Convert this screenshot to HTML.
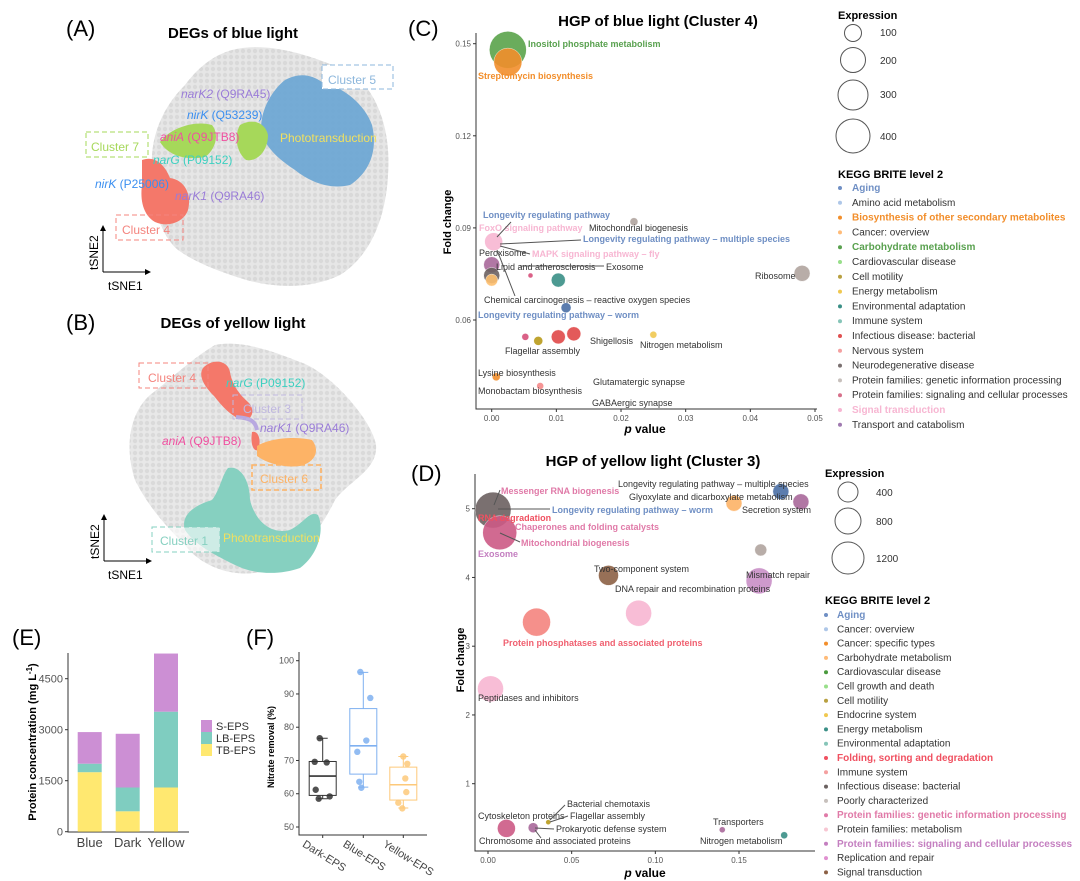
<!DOCTYPE html>
<html><head><meta charset="utf-8">
<style>
html,body{margin:0;padding:0;background:#fff;}
svg{display:block;font-family:"Liberation Sans",Arial,sans-serif;}
.t{font-size:9px;fill:#333;}
.b{font-size:9px;font-weight:bold;}
.g{font-size:12px;}
.tick{font-size:8px;fill:#555;}
.ttl{font-size:15px;font-weight:bold;fill:#000;}
.pl{font-size:22px;fill:#000;}
.lg{font-size:10px;}
</style></head>
<body>
<svg id="fig" width="1080" height="881" viewBox="0 0 1080 881" xmlns="http://www.w3.org/2000/svg">
<defs>
<pattern id="dots" width="6" height="6" patternUnits="userSpaceOnUse"><circle cx="3" cy="3" r="2.2" fill="#d0d0d0"/></pattern>
</defs>
<!-- Panel A -->
<g>
<text class="pl" x="66" y="36">(A)</text>
<text class="ttl" x="233" y="38" text-anchor="middle">DEGs of blue light</text>
<path fill="#e6e6e6" d="M232,50 C262,42 300,52 330,64 C370,72 392,120 388,175 C386,215 372,255 340,275 C310,290 270,288 240,278 C215,270 195,262 178,250 C160,235 150,200 152,170 C150,140 160,110 185,85 C200,65 215,55 232,50 Z"/>
<path fill="url(#dots)" opacity="0.6" d="M232,50 C262,42 300,52 330,64 C370,72 392,120 388,175 C386,215 372,255 340,275 C310,290 270,288 240,278 C215,270 195,262 178,250 C160,235 150,200 152,170 C150,140 160,110 185,85 C200,65 215,55 232,50 Z"/>
<path fill="#6fa8d4" opacity="0.95" d="M285,80 C300,72 312,75 322,82 C345,88 365,105 372,125 C378,150 370,172 350,185 C330,190 310,182 295,170 C280,160 268,150 262,135 C258,115 270,92 285,80 Z"/>
<path fill="#a6d85a" d="M160,142 C170,128 195,120 212,125 C220,135 215,150 205,157 C190,160 170,158 160,142 Z"/>
<path fill="#a6d85a" d="M240,125 C252,118 265,122 268,135 C268,150 258,162 246,160 C236,152 234,135 240,125 Z"/>
<path fill="#f4786a" d="M142,160 C155,155 165,165 170,178 C185,180 192,195 188,210 C184,222 168,228 155,222 C143,215 140,200 142,185 Z"/>
<rect x="322" y="65" width="71" height="24" fill="#fff" stroke="#8db7dc" stroke-dasharray="5,3"/>
<text class="g" x="328" y="84" fill="#8db7dc">Cluster 5</text>
<text class="g" x="91" y="151" fill="#a6d85a">Cluster 7</text>
<rect x="86" y="132" width="62" height="25" fill="none" stroke="#a6d85a" stroke-dasharray="5,3"/>
<text class="g" x="122" y="234" fill="#f4847e">Cluster 4</text>
<rect x="116" y="215" width="67" height="25" fill="none" stroke="#f4847e" stroke-dasharray="5,3"/>
<text class="g" x="181" y="98" fill="#9a7cd8"><tspan font-style="italic">narK2</tspan> (Q9RA45)</text>
<text class="g" x="187" y="119" fill="#3b8ff0"><tspan font-style="italic">nirK</tspan> (Q53239)</text>
<text class="g" x="160" y="141" fill="#f050a0"><tspan font-style="italic">aniA</tspan> (Q9JTB8)</text>
<text class="g" x="153" y="164" fill="#3cd0c0"><tspan font-style="italic">narG</tspan> (P09152)</text>
<text class="g" x="95" y="188" fill="#3b8ff0"><tspan font-style="italic">nirK</tspan> (P25006)</text>
<text class="g" x="175" y="200" fill="#9a7cd8"><tspan font-style="italic">narK1</tspan> (Q9RA46)</text>
<text class="g" x="280" y="142" fill="#f0e060">Phototransduction</text>
<path d="M103,272 V228 M103,272 H148" stroke="#000" fill="none"/>
<path d="M100,231 L103,225 L106,231 Z M145,269 L151,272 L145,275 Z" fill="#000"/>
<text class="g" transform="translate(98,270) rotate(-90)">tSNE2</text>
<text class="g" x="108" y="290">tSNE1</text>
</g>
<!-- Panel B -->
<g>
<text class="pl" x="66" y="330">(B)</text>
<text class="ttl" x="233" y="328" text-anchor="middle">DEGs of yellow light</text>
<path fill="#e8e8e8" d="M215,345 C240,340 270,350 300,362 C330,372 372,420 376,445 C378,470 350,480 335,500 C320,530 300,560 260,572 C230,578 200,565 185,545 C170,530 150,510 135,480 C125,450 128,415 150,395 C170,380 190,360 215,345 Z"/>
<path fill="url(#dots)" opacity="0.6" d="M215,345 C240,340 270,350 300,362 C330,372 372,420 376,445 C378,470 350,480 335,500 C320,530 300,560 260,572 C230,578 200,565 185,545 C170,530 150,510 135,480 C125,450 128,415 150,395 C170,380 190,360 215,345 Z"/>
<path fill="#f4786a" d="M203,368 C212,358 228,360 230,372 C232,385 240,395 248,402 C256,410 252,420 244,420 C232,418 222,406 214,396 C204,386 198,376 203,368 Z"/>
<path fill="none" stroke="#b8a8e0" stroke-width="4" d="M236,417 C245,418 255,418 257,430"/>
<path fill="#f4786a" d="M252,432 C258,430 262,440 258,450 C254,452 250,445 252,432 Z"/>
<path fill="#fdb366" d="M257,446 C270,438 295,436 312,440 C320,450 316,462 300,466 C285,468 268,464 257,456 Z"/>
<path fill="#86d0c0" d="M228,468 C240,465 250,480 250,500 C255,520 270,535 290,530 C305,522 310,510 318,515 C325,530 318,555 300,568 C280,575 255,575 235,565 C215,555 195,545 185,530 C180,515 195,505 212,500 C220,490 222,475 228,468 Z"/>
<text class="g" x="148" y="382" fill="#f4847e">Cluster 4</text>
<rect x="139" y="363" width="69" height="25" fill="none" stroke="#f4847e" stroke-dasharray="5,3"/>
<text class="g" x="243" y="413" fill="#c0b8e0">Cluster 3</text>
<rect x="233" y="395" width="69" height="24" fill="none" stroke="#c0b8e0" stroke-dasharray="5,3"/>
<text class="g" x="260" y="483" fill="#fdb366">Cluster 6</text>
<rect x="252" y="465" width="69" height="25" fill="none" stroke="#fdb366" stroke-width="1.6" stroke-dasharray="5,3"/>
<rect x="152" y="527" width="68" height="25" fill="#fff" fill-opacity="0.6" stroke="#86d0c0" stroke-dasharray="5,3"/>
<text class="g" x="160" y="545" fill="#86d0c0">Cluster 1</text>
<text class="g" x="226" y="387" fill="#3cd0c0"><tspan font-style="italic">narG</tspan> (P09152)</text>
<text class="g" x="260" y="432" fill="#9a7cd8"><tspan font-style="italic">narK1</tspan> (Q9RA46)</text>
<text class="g" x="162" y="445" fill="#f050a0"><tspan font-style="italic">aniA</tspan> (Q9JTB8)</text>
<text class="g" x="223" y="542" fill="#f0e060">Phototransduction</text>
<path d="M104,561 V517 M104,561 H149" stroke="#000" fill="none"/>
<path d="M101,520 L104,514 L107,520 Z M146,558 L152,561 L146,564 Z" fill="#000"/>
<text class="g" transform="translate(99,559) rotate(-90)">tSNE2</text>
<text class="g" x="108" y="579">tSNE1</text>
</g>
<!-- Panel C static -->
<g>
<text class="pl" x="408" y="36">(C)</text>
<text class="ttl" x="658" y="26" text-anchor="middle">HGP of blue light (Cluster 4)</text>
<g id="cPlot"></g>
<g>
<text class="b" x="528" y="47" fill="#59a14f">Inositol phosphate metabolism</text>
<text class="b" x="478" y="79" fill="#f28e2b">Streptomycin biosynthesis</text>
<text class="b" x="483" y="218" fill="#6f8fc4">Longevity regulating pathway</text>
<text class="b" x="479" y="231" fill="#f7b6d2">FoxO signaling pathway</text>
<text class="t" x="589" y="231">Mitochondrial biogenesis</text>
<text class="b" x="583" y="242" fill="#6f8fc4">Longevity regulating pathway – multiple species</text>
<text class="t" x="479" y="256">Peroxisome</text>
<text class="b" x="532" y="257" fill="#f7b6d2">MAPK signaling pathway – fly</text>
<text class="t" x="496" y="270">Lipid and atherosclerosis</text>
<text class="t" x="606" y="270">Exosome</text>
<text class="t" x="755" y="279">Ribosome</text>
<text class="t" x="484" y="303">Chemical carcinogenesis – reactive oxygen species</text>
<text class="b" x="478" y="318" fill="#6f8fc4">Longevity regulating pathway – worm</text>
<text class="t" x="590" y="344">Shigellosis</text>
<text class="t" x="640" y="348">Nitrogen metabolism</text>
<text class="t" x="505" y="354">Flagellar assembly</text>
<text class="t" x="478" y="376">Lysine biosynthesis</text>
<text class="t" x="593" y="385">Glutamatergic synapse</text>
<text class="t" x="478" y="394">Monobactam biosynthesis</text>
<text class="t" x="592" y="406">GABAergic synapse</text>
<path d="M497,237 L511,222 M500,244 L581,240 M500,246 L530,254 M520,266 L604,266 M497,250 L515,296" stroke="#555" fill="none"/>
</g>
<text x="645" y="433" font-size="12" font-weight="bold" text-anchor="middle"><tspan font-style="italic">p</tspan> value</text>
<text transform="translate(451,222) rotate(-90)" font-size="11" font-weight="bold" text-anchor="middle">Fold change</text>
</g>
<!-- Panel D static -->
<g>
<text class="pl" x="411" y="481">(D)</text>
<text class="ttl" x="653" y="466" text-anchor="middle">HGP of yellow light (Cluster 3)</text>
<g id="dPlot"></g>
<g>
<text class="b" x="501" y="494" fill="#e07aa8">Messenger RNA biogenesis</text>
<text class="t" x="618" y="487">Longevity regulating pathway – multiple species</text>
<text class="t" x="629" y="500">Glyoxylate and dicarboxylate metabolism</text>
<text class="b" x="552" y="513" fill="#6f8fc4">Longevity regulating pathway – worm</text>
<text class="t" x="742" y="513">Secretion system</text>
<text class="b" x="478" y="521" fill="#f05060">RNA degradation</text>
<text class="b" x="515" y="530" fill="#e07aa8">Chaperones and folding catalysts</text>
<text class="b" x="521" y="546" fill="#e07aa8">Mitochondrial biogenesis</text>
<text class="b" x="478" y="557" fill="#c47fc0">Exosome</text>
<text class="t" x="594" y="572">Two-component system</text>
<text class="t" x="746" y="578">Mismatch repair</text>
<text class="t" x="615" y="592">DNA repair and recombination proteins</text>
<text class="b" x="503" y="646" fill="#f06070">Protein phosphatases and associated proteins</text>
<text class="t" x="478" y="701">Peptidases and inhibitors</text>
<text class="t" x="567" y="807">Bacterial chemotaxis</text>
<text class="t" x="478" y="819">Cytoskeleton proteins</text>
<text class="t" x="570" y="819">Flagellar assembly</text>
<text class="t" x="713" y="825">Transporters</text>
<text class="t" x="556" y="832">Prokaryotic defense system</text>
<text class="t" x="479" y="844">Chromosome and associated proteins</text>
<text class="t" x="700" y="844">Nitrogen metabolism</text>
<path d="M494,505 L500,490 M498,509 L550,509 M500,533 L520,542 M550,820 L565,805 M550,822 L568,816 M535,828 L554,829 M535,830 L541,838" stroke="#555" fill="none"/>
</g>
<text x="645" y="877" font-size="12" font-weight="bold" text-anchor="middle"><tspan font-style="italic">p</tspan> value</text>
<text transform="translate(464,660) rotate(-90)" font-size="11" font-weight="bold" text-anchor="middle">Fold change</text>
</g>
<!-- Legends -->
<g>
<text x="838" y="19" font-size="11" font-weight="bold">Expression</text>
<circle cx="853" cy="33" r="8.5" fill="none" stroke="#555"/><text class="lg" fill="#333" x="880" y="36">100</text>
<circle cx="853" cy="60" r="12.5" fill="none" stroke="#555"/><text class="lg" fill="#333" x="880" y="64">200</text>
<circle cx="853" cy="95" r="15" fill="none" stroke="#555"/><text class="lg" fill="#333" x="880" y="98">300</text>
<circle cx="853" cy="136" r="17" fill="none" stroke="#555"/><text class="lg" fill="#333" x="880" y="140">400</text>
<text x="838" y="178" font-size="11" font-weight="bold">KEGG BRITE level 2</text>
<g id="legC"></g>
</g>
<g>
<text x="825" y="477" font-size="11" font-weight="bold">Expression</text>
<circle cx="848" cy="492" r="10" fill="none" stroke="#555"/><text class="lg" fill="#333" x="876" y="496">400</text>
<circle cx="848" cy="521" r="13" fill="none" stroke="#555"/><text class="lg" fill="#333" x="876" y="525">800</text>
<circle cx="848" cy="558" r="16" fill="none" stroke="#555"/><text class="lg" fill="#333" x="876" y="562">1200</text>
<text x="825" y="604" font-size="11" font-weight="bold">KEGG BRITE level 2</text>
<g id="legD"></g>
</g>
<!-- Panel E -->
<g>
<text class="pl" x="12" y="645">(E)</text>
<g id="ePlot"></g>
<text transform="translate(36,742) rotate(-90)" font-size="11" font-weight="bold" text-anchor="middle">Protein concentration (mg L<tspan dy="-4" font-size="8">-1</tspan><tspan dy="4">)</tspan></text>
</g>
<!-- Panel F -->
<g>
<text class="pl" x="246" y="645">(F)</text>
<g id="fPlot"></g>
<text transform="translate(274,747) rotate(-90)" font-size="9" font-weight="bold" text-anchor="middle">Nitrate removal (%)</text>
</g>
</svg>
<script>
// ---- Panel C data ----
const cP = [0.0025,0.0025,0.022,0.0003,0.0,0.0,0.0,0.006,0.0103,0.048,0.0115,0.0052,0.0072,0.0103,0.0127,0.025,0.0007,0.0075];
const cFC = [0.148,0.144,0.092,0.0855,0.078,0.0745,0.073,0.0745,0.073,0.0752,0.064,0.0545,0.0532,0.0545,0.0555,0.0552,0.0415,0.0385];
const cR = [18.5,14,4,9,8,8,6,2.5,7,8,5,3.5,4.5,7,7,3.5,4,3.5];
const cCol = ["#5aa34a","#f28e2b","#b0a49f","#f7b6d2","#a8689a","#6b6160","#fdbf6f","#d6507a","#3a8f86","#b0a49f","#4a6fa5","#d6507a","#b89a1a","#e04848","#e04848","#f0c850","#f28e2b","#f58a8a"];
const cXTicks = [0,0.01,0.02,0.03,0.04,0.05];
const cXLabels = ["0.00","0.01","0.02","0.03","0.04","0.05"];
const cYTicks = [0.06,0.09,0.12,0.15];
const cYLabels = ["0.06","0.09","0.12","0.15"];
// ---- Panel D data ----
const dP = [0.003,0.007,0.175,0.187,0.147,0.163,0.072,0.162,0.09,0.029,0.0015,0.011,0.027,0.036,0.14,0.177];
const dFC = [4.98,4.65,5.25,5.1,5.08,4.4,4.03,3.95,3.48,3.35,2.38,0.35,0.36,0.44,0.33,0.25];
const dR = [18,17,8,8,8,6,10,13,13,14,13,9,5,2.5,3,3.5];
const dCol = ["#6b6160","#cc5a85","#4a6fa5","#a8689a","#fdb366","#b0a49f","#8c6045","#c98fc6","#f7b6d2","#f4847e","#f7b6d2","#cc5a85","#a8689a","#b89a1a","#a8689a","#3a8f86"];
const dXTicks = [0,0.05,0.10,0.15];
const dXLabels = ["0.00","0.05","0.10","0.15"];
const dYTicks = [1,2,3,4,5];
const dYLabels = ["1","2","3","4","5"];
// ---- Legends ----
const legCNames = ["Aging","Amino acid metabolism","Biosynthesis of other secondary metabolites","Cancer: overview","Carbohydrate metabolism","Cardiovascular disease","Cell motility","Energy metabolism","Environmental adaptation","Immune system","Infectious disease: bacterial","Nervous system","Neurodegenerative disease","Protein families: genetic information processing","Protein families: signaling and cellular processes","Signal transduction","Transport and catabolism"];
const legCCols = ["#6f8fc4","#aec7e8","#f28e2b","#ffbb78","#59a14f","#98df8a","#b8a040","#f0c850","#3a8f86","#86c5b8","#e05050","#f4a0a0","#7a7070","#c7c0bc","#d6708a","#f7b6d2","#a07ab0"];
const legCBold = [1,0,1,0,1,0,0,0,0,0,0,0,0,0,0,1,0];
const legDNames = ["Aging","Cancer: overview","Cancer: specific types","Carbohydrate metabolism","Cardiovascular disease","Cell growth and death","Cell motility","Endocrine system","Energy metabolism","Environmental adaptation","Folding, sorting and degradation","Immune system","Infectious disease: bacterial","Poorly characterized","Protein families: genetic information processing","Protein families: metabolism","Protein families: signaling and cellular processes","Replication and repair","Signal transduction"];
const legDCols = ["#6f8fc4","#aec7e8","#f28e2b","#ffbb78","#4a9a3d","#98df8a","#b8a040","#f0c850","#3a8f86","#86c5b8","#f05060","#f4a0a0","#6b6160","#c7c0bc","#e07aa8","#f7c6d2","#c47fc0","#e090d0","#8c6045"];
const legDBold = [1,0,0,0,0,0,0,0,0,0,1,0,0,0,1,0,1,0,0];
// ---- Panel E data ----
const eCats = ["Blue","Dark","Yellow"];
const eTB = [1750,600,1300];
const eLB = [250,700,2230];
const eS = [930,1580,1710];
const eTicks = [0,1500,3000,4500];
// ---- Panel F data ----
const fCats = ["Dark-EPS","Blue-EPS","Yellow-EPS"];
const fQ1 = [59.5,65.9,58.1];
const fMed = [65.3,74.4,62.7];
const fQ3 = [69.7,85.6,68.0];
const fLo = [58.5,62.0,55.7];
const fHi = [76.7,96.5,71.2];
const fPtsDark = [76.7,69.6,69.4,61.2,59.2,58.5];
const fPtsBlue = [96.6,88.8,76.0,72.6,63.6,61.8];
const fPtsYellow = [71.2,69.0,64.6,60.5,57.3,55.6];
const fTicks = [50,60,70,80,90,100];

const NS="http://www.w3.org/2000/svg";
function mk(tag,attrs,parent){const e=document.createElementNS(NS,tag);for(const k in attrs)e.setAttribute(k,attrs[k]);parent.appendChild(e);return e;}
function lin(d0,d1,r0,r1){return v=>r0+(v-d0)*(r1-r0)/(d1-d0);}

function bubble(gid,P,FC,R,Col,xs,ys,xT,xL,yT,yL,x0,x1,yTop,yBot,nm){
  const g=document.getElementById(gid);
  const ax=mk('path',{d:`M${x0},${yTop} V${yBot} H${x1}`,stroke:'#333',fill:'none'},g);
  
  
  xT.forEach((t,i)=>{const x=xs(t);
    mk('line',{x1:x,x2:x,y1:yBot,y2:yBot+3,stroke:'#333'},g);
    const tx=mk('text',{x:x,y:yBot+12,'text-anchor':'middle',class:'tick'},g);tx.textContent=xL[i];
    
    });
  yT.forEach((t,i)=>{const y=ys(t);
    mk('line',{x1:x0-3,x2:x0,y1:y,y2:y,stroke:'#333'},g);
    const tx=mk('text',{x:x0-5,y:y+3,'text-anchor':'end',class:'tick'},g);tx.textContent=yL[i];
    
    });
  P.forEach((p,i)=>{const c=mk('circle',{cx:xs(p),cy:ys(FC[i]),r:R[i],fill:Col[i],'fill-opacity':0.9,stroke:'#fff','stroke-width':0.4},g);
    
    });
}
bubble('cPlot',cP,cFC,cR,cCol,lin(0,0.05,491.7,815),lin(0.06,0.15,320,43.7),cXTicks,cXLabels,cYTicks,cYLabels,476,817,33,409,'c');
bubble('dPlot',dP,dFC,dR,dCol,lin(0,0.15,488,739),lin(1,5,783.7,508.7),dXTicks,dXLabels,dYTicks,dYLabels,475,815,474,851,'d');

function legend(gid,names,cols,bold,x,y0,dy,tx){
  const g=document.getElementById(gid);
  names.forEach((n,i)=>{const y=y0+i*dy;
    const d=mk('circle',{cx:x,cy:y-3,r:2,fill:cols[i]},g);
    
    
    const t=mk('text',{x:tx,y:y,class:'lg',style:'fill:'+(bold[i]?cols[i]:'#333')+';font-weight:'+(bold[i]?'bold':'normal')},g);t.textContent=n;
    
    });
}
legend('legC',legCNames,legCCols,legCBold,840,191,14.8,852);
legend('legD',legDNames,legDCols,legDBold,826,618,14.3,837);

// Panel E
(function(){
  const g=document.getElementById('ePlot');
  const ys=lin(0,1500,831.7,780.7);
  const x0=[77.7,115.7,154], w=24;
  mk('path',{d:'M68,653 V832 H189',stroke:'#333',fill:'none'},g);
  eTicks.forEach(t=>{const y=ys(t);mk('line',{x1:65,x2:68,y1:y,y2:y,stroke:'#333'},g);
    const tx=mk('text',{x:63,y:y+4,'text-anchor':'end','font-size':11,fill:'#555'},g);tx.textContent=t;
    
    });
  eCats.forEach((c,i)=>{
    const segs=[[eTB[i],'#ffe870','tb'],[eLB[i],'#7fcdc0','lb'],[eS[i],'#cc8fd4','s']];
    let base=0;
    segs.forEach(s=>{const r=mk('rect',{x:x0[i],y:ys(base+s[0]),width:w,height:ys(base)-ys(base+s[0]),fill:s[1]},g);
      
      
      base+=s[0];});
    const tx=mk('text',{x:x0[i]+w/2,y:847,'text-anchor':'middle','font-size':13,fill:'#444'},g);tx.textContent=c;
    
    
  });
  [['S-EPS','#cc8fd4',725],['LB-EPS','#7fcdc0',737],['TB-EPS','#ffe870',749]].forEach(l=>{
    const r=mk('rect',{x:201,y:l[2]-5,width:11,height:12,fill:l[1]},g);
    
    
    const t=mk('text',{x:216,y:l[2]+5,'font-size':11,fill:'#333'},g);t.textContent=l[0];
    
    });
})();

// Panel F
(function(){
  const g=document.getElementById('fPlot');
  const ys=lin(50,100,827,660.7);
  const xc=[322.7,363.3,403.3], bw=27;
  const cols=['#333333','#7fb0f0','#fdc97a'];
  const pts=[fPtsDark,fPtsBlue,fPtsYellow];
  const jit=[[-3,-8,4,-7,7,-4],[-3,7,3,-6,-4,-2],[0,4,2,3,-5,-1]];
  mk('path',{d:'M299,652 V835 H427',stroke:'#333',fill:'none'},g);
  fTicks.forEach(t=>{const y=ys(t);mk('line',{x1:296,x2:299,y1:y,y2:y,stroke:'#333'},g);
    const tx=mk('text',{x:294,y:y+3,'text-anchor':'end','font-size':9,fill:'#555'},g);tx.textContent=t;
    
    });
  fCats.forEach((c,i)=>{const x=xc[i];
    const wh=mk('path',{d:`M${x},${ys(fHi[i])} V${ys(fQ3[i])} M${x},${ys(fQ1[i])} V${ys(fLo[i])} M${x-5},${ys(fHi[i])} H${x+5} M${x-5},${ys(fLo[i])} H${x+5}`,stroke:cols[i],fill:'none'},g);
    
    
    const b=mk('rect',{x:x-bw/2,y:ys(fQ3[i]),width:bw,height:ys(fQ1[i])-ys(fQ3[i]),fill:'none',stroke:cols[i]},g);
    
    
    const m=mk('line',{x1:x-bw/2,x2:x+bw/2,y1:ys(fMed[i]),y2:ys(fMed[i]),stroke:cols[i],'stroke-width':1.6},g);
    
    
    pts[i].forEach((v,j)=>{const p=mk('circle',{cx:x+jit[i][j],cy:ys(v),r:3.2,fill:cols[i],'fill-opacity':0.85},g);
      
      });
    mk('line',{x1:x,x2:x,y1:835,y2:838,stroke:'#333'},g);
    const lx=x-21, ly=846;
    const tx=mk('text',{x:lx,y:ly,'text-anchor':'start','font-size':11,fill:'#444',transform:`rotate(32 ${lx} ${ly})`},g);tx.textContent=c;
    
    
  });
})();
</script>
</body></html>
